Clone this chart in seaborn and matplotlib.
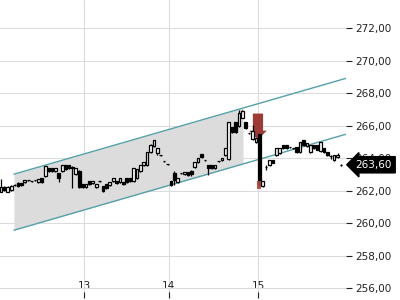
import numpy as np
import pandas as pd
import matplotlib
matplotlib.use("Agg")
import matplotlib.pyplot as plt
import matplotlib.transforms as mtransforms
from matplotlib.ticker import FuncFormatter
import seaborn as sns

# ---------------- data ----------------
opens = [261.91, 262.22, 261.91, 262.03, 262.34, 262.46, 262.46, 262.52, 262.65, 262.58,
         262.65, 262.52, 262.77, 262.89, 263.38, 263.38, 263.20, 263.08, 263.20, 263.57,
         263.57, 263.45, 263.02, 263.20, 262.40, 262.22, 262.58, 262.46, 262.22, 262.58,
         262.28, 262.40, 262.34, 262.58, 262.58, 262.52, 262.52, 262.77, 262.77, 262.58,
         262.77, 263.20, 263.57, 263.57, 264.37, 264.74, 264.31, 264.18, 263.82, 263.63,
         262.58, 263.08, 262.52, 263.08, 263.02, 263.14, 263.20, 263.45, 263.75, 264.25,
         263.88, 263.57, 263.57, 263.38, 263.82, 263.88, 264.18, 263.94, 265.91, 266.22,
         265.97, 266.50, 266.22, 265.54, 265.17, 264.98, 265.48, 262.28, 263.45, 263.57,
         263.88, 264.18, 264.31, 264.80, 264.80, 264.68, 264.62, 264.68, 264.37, 265.11,
         264.74, 264.37, 264.80, 264.80, 264.43, 264.62, 264.37, 264.12, 263.88, 264.06,
         263.60]
closes = [262.22, 262.03, 262.22, 262.28, 262.36, 262.28, 262.34, 262.65, 262.66, 262.59,
          262.66, 262.71, 262.52, 263.51, 263.20, 263.20, 263.38, 262.77, 263.57, 263.32,
          263.38, 263.38, 263.38, 262.22, 262.22, 262.40, 262.40, 262.58, 262.40, 262.59,
          261.97, 262.15, 262.52, 262.77, 262.46, 262.77, 262.40, 262.52, 262.58, 263.38,
          263.32, 263.57, 263.75, 264.37, 264.80, 265.11, 264.62, 264.19, 263.83, 263.64,
          262.34, 262.65, 262.77, 263.09, 263.14, 262.95, 263.02, 263.75, 264.00, 264.06,
          263.89, 263.38, 263.38, 263.57, 263.83, 264.00, 264.62, 266.22, 265.60, 265.60,
          266.77, 266.90, 265.85, 265.55, 265.66, 265.23, 262.40, 262.58, 263.46, 263.88,
          263.70, 264.62, 264.62, 264.62, 264.62, 264.69, 264.63, 264.37, 264.98, 264.80,
          264.92, 264.80, 264.62, 264.50, 264.98, 264.37, 264.18, 264.13, 264.18, 264.20,
          263.61]
highs = [262.71, 262.28, 262.28, 262.34, 262.40, 262.52, 262.46, 262.68, 262.68, 262.62,
         262.68, 262.75, 262.80, 263.55, 263.42, 263.40, 263.40, 263.10, 263.60, 263.60,
         263.60, 263.50, 263.40, 263.25, 262.42, 262.42, 262.60, 262.60, 262.42, 262.62,
         262.30, 262.42, 262.55, 262.80, 262.60, 262.80, 262.55, 262.80, 262.80, 263.42,
         263.35, 263.60, 263.78, 264.40, 264.85, 265.15, 264.65, 264.22, 263.85, 263.66,
         262.60, 263.20, 262.80, 263.12, 263.16, 263.16, 263.30, 263.78, 264.03, 264.28,
         263.92, 263.57, 263.60, 263.60, 263.85, 264.03, 264.65, 266.25, 265.95, 266.25,
         266.95, 267.00, 266.25, 265.58, 266.03, 265.26, 265.50, 262.62, 263.57, 263.90,
         263.90, 264.65, 264.65, 264.83, 264.83, 264.72, 264.66, 264.70, 265.00, 265.13,
         264.95, 264.83, 264.83, 264.83, 265.00, 264.65, 264.40, 264.18, 264.20, 264.30,
         263.65]
lows = [261.91, 261.97, 261.91, 261.97, 262.30, 262.22, 262.30, 262.50, 262.62, 262.55,
        262.62, 262.50, 262.48, 262.83, 263.18, 263.15, 263.18, 262.52, 263.18, 263.30,
        263.35, 262.15, 263.00, 262.18, 262.18, 262.20, 262.38, 262.44, 262.20, 262.55,
        261.93, 262.12, 262.32, 262.55, 262.44, 262.50, 262.38, 262.50, 262.55, 262.55,
        262.75, 263.18, 263.55, 263.55, 264.35, 264.70, 264.18, 264.15, 263.80, 263.60,
        262.30, 262.34, 262.50, 263.05, 263.00, 262.92, 262.90, 263.42, 263.72, 264.04,
        263.85, 262.95, 263.35, 263.35, 263.80, 263.85, 264.15, 263.90, 265.57, 265.57,
        265.95, 266.45, 265.80, 265.50, 265.15, 264.95, 262.25, 262.25, 263.26, 263.55,
        263.68, 264.15, 264.28, 264.60, 264.60, 264.65, 264.60, 264.35, 264.35, 264.78,
        264.72, 264.35, 264.60, 264.48, 264.40, 264.35, 264.15, 263.95, 263.85, 264.04,
        263.55]

day_tick_pos = [24.4, 49.4, 75.6]
day_tick_labels = ["13", "14", "15"]

chan_x = [3.8, 101.5]
chan_upper = [263.02, 268.92]
chan_lower = [259.57, 265.48]
fill_end = 71.2

signal_idx = 76
last_price = 263.60
y_ticks = [256, 258, 260, 262, 264, 266, 268, 270, 272]

# ---------------- figure ----------------
sns.set_style("white")
plt.rcParams["font.family"] = ["DejaVu Sans"]

fig = plt.figure(figsize=(4, 3), dpi=100)
ax = fig.add_axes([0.0, 0.0067, 0.865, 0.9933])

df = pd.DataFrame({"o": opens, "h": highs, "l": lows, "c": closes})
df["i"] = np.arange(len(df))
up = df["c"] >= df["o"]

# channel fill
fx = np.linspace(chan_x[0], fill_end, 50)
ax.fill_between(fx, np.interp(fx, chan_x, chan_lower), np.interp(fx, chan_x, chan_upper),
                color="#dcdcdc", lw=0, zorder=0.2)

# channel lines
chan_df = pd.DataFrame({"x": chan_x * 2, "y": chan_upper + chan_lower,
                        "line": ["u", "u", "l", "l"]})
sns.lineplot(data=chan_df, x="x", y="y", units="line", estimator=None,
             color="#55a0a9", lw=1.0, ax=ax, zorder=2)

# signal arrow
sx = signal_idx - 0.4
ax.add_patch(matplotlib.patches.FancyArrow(
    sx, highs[signal_idx] + 1.25, 0, -1.6, width=3.0, head_width=5.2,
    head_length=0.55, length_includes_head=True, fc="#9e3a35", ec="none", zorder=2.5))

# wicks and bodies
ax.vlines(df["i"], df["l"], df["h"], color="black", lw=0.9, zorder=3)
body_h = (df["c"] - df["o"]).abs()
ax.bar(df["i"], body_h, bottom=np.minimum(df["o"], df["c"]), width=0.78,
       color=np.where(up, "white", "black"), edgecolor="black", linewidth=0.9, zorder=3.5)

# red low marker
ax.add_patch(matplotlib.patches.Rectangle((signal_idx - 0.55, lows[signal_idx] - 0.12), 1.15, 0.5,
                                          fc="#b0453f", ec="none", alpha=0.9, zorder=3.6))

ax.set_xlim(-0.3, 101.5)
ax.set_ylim(255.40, 273.74)

ax.yaxis.tick_right()
ax.set_yticks(y_ticks)
ax.yaxis.set_major_formatter(FuncFormatter(lambda v, p: f"{v:.2f}".replace(".", ",")))
ax.set_xticks(day_tick_pos)
ax.set_xticklabels(day_tick_labels)
ax.tick_params(axis="y", right=True, left=False, length=4, width=0.8, pad=3,
               labelsize=7.5, colors="#222222")
ax.tick_params(axis="x", bottom=True, direction="in", length=4, width=0.8, pad=-12,
               labelsize=7.5, colors="#222222")
ax.grid(True, color="#dcdcdc", lw=0.8)
ax.set_axisbelow(True)
for s in ax.spines.values():
    s.set_visible(False)
ax.set_xlabel("")
ax.set_ylabel("")
if ax.get_legend():
    ax.get_legend().remove()

# last price label
trans = mtransforms.blended_transform_factory(ax.transAxes, ax.transData)
ax.annotate(f"{last_price:.2f}".replace(".", ","), xy=(1.0, last_price), xycoords=trans,
            xytext=(7, 0), textcoords="offset points", ha="left", va="center",
            fontsize=7.5, color="white", annotation_clip=False,
            bbox=dict(boxstyle="larrow,pad=0.3", fc="black", ec="black"))

fig.savefig("out.png", dpi=100)
